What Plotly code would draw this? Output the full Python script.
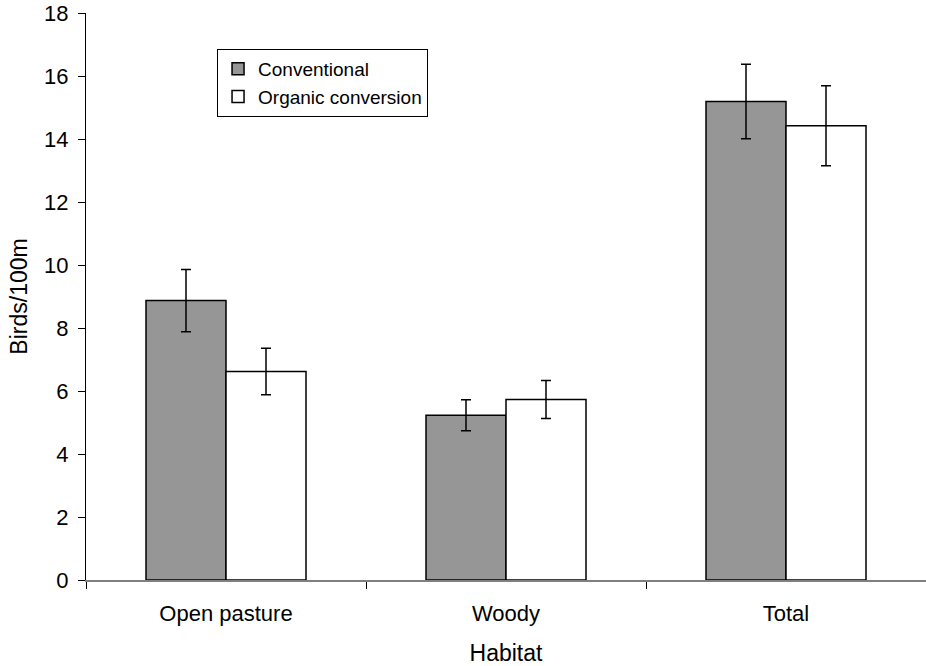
import plotly.graph_objects as go

categories = ["Open pasture", "Woody", "Total"]
conventional = [8.87, 5.23, 15.19]
conventional_err = [0.99, 0.49, 1.18]
organic = [6.62, 5.73, 14.42]
organic_err = [0.74, 0.60, 1.27]
y_ticks = [0, 2, 4, 6, 8, 10, 12, 14, 16, 18]

FONT = "Liberation Sans, Arial, sans-serif"

fig = go.Figure()
fig.add_trace(go.Bar(
    name="Conventional", x=categories, y=conventional,
    marker=dict(color="#969696", line=dict(color="black", width=1.5)),
    error_y=dict(type="data", array=conventional_err, color="black", thickness=1.5, width=5),
))
fig.add_trace(go.Bar(
    name="Organic conversion", x=categories, y=organic,
    marker=dict(color="white", line=dict(color="black", width=1.5)),
    error_y=dict(type="data", array=organic_err, color="black", thickness=1.5, width=5),
))

fig.update_layout(
    width=926, height=666,
    margin=dict(l=86, r=0, t=13, b=86),
    paper_bgcolor="white", plot_bgcolor="white",
    barmode="group", bargap=0.4286, bargroupgap=0,
    font=dict(family=FONT, size=22, color="black"),
    showlegend=True,
    legend=dict(
        x=0.156, y=0.9365, xanchor="left", yanchor="top",
        bordercolor="black", borderwidth=1, bgcolor="white",
        font=dict(size=19), traceorder="normal",
        itemwidth=30,
    ),
    xaxis=dict(
        title=dict(text="Habitat", standoff=20, font=dict(size=23)),
        showline=True, linecolor="#808080", linewidth=2,
        ticks="outside", tickson="boundaries", ticklen=7, tickcolor="black", tickwidth=1,
        ticklabelstandoff=13, automargin=False,
        showgrid=False, zeroline=False,
    ),
    yaxis=dict(
        title=dict(text="Birds/100m", standoff=10, font=dict(size=23)),
        range=[0, 18], tickvals=y_ticks,
        showline=True, linecolor="black", linewidth=1,
        ticks="outside", ticklen=7, tickcolor="black", tickwidth=1,
        ticklabelstandoff=5, ticklabeloverflow="allow", automargin=False,
        showgrid=False, zeroline=False,
    ),
)

fig.write_html(
    "out.html",
    config={"displayModeBar": False},
    post_script="document.body.style.margin='0';document.body.style.overflow='hidden';",
)
